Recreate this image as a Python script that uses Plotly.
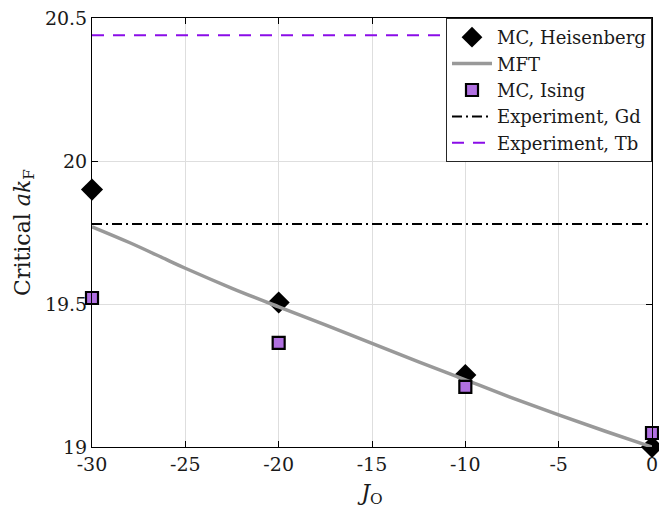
import plotly.graph_objects as go

j_mc = [-30, -20, -10, 0]
heis = [19.90, 19.505, 19.252, 19.0]
ising = [19.521, 19.364, 19.21, 19.049]
j_mft = [-30, -28, -26, -25, -22.5, -20, -17.5, -15, -12.5, -10, -7.5, -5, -2.5, 0]
mft = [19.77, 19.715, 19.655, 19.625, 19.555, 19.49, 19.427, 19.362, 19.298, 19.235, 19.172, 19.112, 19.055, 19.0]
gd = 19.78
tb = 20.44
xticks = [-30, -25, -20, -15, -10, -5, 0]
xticktext = ["-30", "-25", "-20", "-15", "-10", "-5", "0"]
yticks = [19, 19.5, 20, 20.5]
yticktext = ["19", "19.5", "20", "20.5"]

fig = go.Figure()
fig.add_trace(go.Scatter(x=j_mc, y=heis, mode="markers", name="MC, Heisenberg",
                         marker=dict(symbol="diamond", size=17, color="black"),
                         cliponaxis=False))
fig.add_trace(go.Scatter(x=j_mft, y=mft, mode="lines", name="MFT",
                         line=dict(color="#999999", width=3.5, shape="spline")))
fig.add_trace(go.Scatter(x=j_mc, y=ising, mode="markers", name="MC, Ising",
                         marker=dict(symbol="square", size=12, color="#b070e0",
                                     line=dict(color="black", width=2.2)),
                         cliponaxis=False))
fig.add_trace(go.Scatter(x=[xticks[0], xticks[-1]], y=[gd, gd], mode="lines",
                         name="Experiment, Gd",
                         line=dict(color="black", width=2, dash="10px,4px,2px,4px")))
fig.add_trace(go.Scatter(x=[xticks[0], xticks[-1]], y=[tb, tb], mode="lines",
                         name="Experiment, Tb",
                         line=dict(color="#8a0de8", width=2, dash="12px,9px")))

font = "DejaVu Serif"
fig.update_layout(
    width=659, height=514,
    margin=dict(l=92, r=7, t=18, b=67, autoexpand=False),
    paper_bgcolor="white", plot_bgcolor="white",
    font=dict(family=font, size=19, color="#1a1a1a"),
    showlegend=True,
    legend=dict(x=1, y=1, xanchor="right", yanchor="top",
                bgcolor="white", bordercolor="#262626", borderwidth=1,
                font=dict(size=18, color="#1a1a1a"), tracegroupgap=0,
                itemwidth=40),
    xaxis=dict(range=[-30, 0], tickvals=xticks, ticktext=xticktext,
               ticklabeloverflow="allow", automargin=False,
               showgrid=True, gridcolor="#dedede", gridwidth=1,
               showline=True, linecolor="black", linewidth=1, mirror="ticks",
               ticks="inside", ticklen=6, tickcolor="black", zeroline=False,
               title=dict(text="<i>J</i><sub>O</sub>", font=dict(size=22), standoff=10)),
    yaxis=dict(range=[19, 20.5], tickvals=yticks, ticktext=yticktext,
               ticklabeloverflow="allow", automargin=False,
               showgrid=True, gridcolor="#dedede", gridwidth=1,
               showline=True, linecolor="black", linewidth=1, mirror="ticks",
               ticks="inside", ticklen=6, tickcolor="black", zeroline=False,
               title=dict(text="Critical <i>ak</i><sub>F</sub>", font=dict(size=22), standoff=8)),
)
fig.write_html("out.html", config={"displayModeBar": False},
               post_script="document.body.style.margin='0';document.body.style.overflow='hidden';")
